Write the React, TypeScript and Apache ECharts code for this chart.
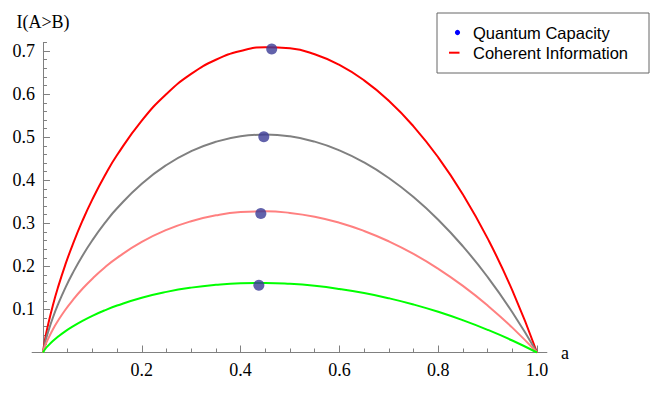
import React, { useEffect, useRef } from 'react';
import * as echarts from 'echarts';

// a values at which the curves were read
const aValues = [0, 0.005, 0.01, 0.02, 0.03, 0.045, 0.06, 0.08, 0.1, 0.125, 0.15, 0.2, 0.25, 0.3, 0.35, 0.4, 0.45, 0.5, 0.55, 0.6, 0.65, 0.7, 0.75, 0.8, 0.85, 0.9, 0.95, 1];

// Coherent information curves I(A>B)
const redCurve = [0, 0.0354, 0.0627, 0.1092, 0.1497, 0.203, 0.2502, 0.3061, 0.3557, 0.4105, 0.4586, 0.5386, 0.6005, 0.6471, 0.68, 0.7004, 0.709, 0.7064, 0.6927, 0.6679, 0.6321, 0.5847, 0.5254, 0.4533, 0.3671, 0.265, 0.1442, 0];
const grayCurve = [0, 0.0262, 0.0464, 0.0807, 0.1104, 0.1496, 0.1841, 0.2248, 0.2607, 0.3003, 0.335, 0.392, 0.4355, 0.4676, 0.4895, 0.5022, 0.5062, 0.502, 0.4897, 0.4695, 0.4414, 0.4053, 0.3611, 0.3084, 0.2467, 0.1754, 0.0936, 0];
const pinkCurve = [0, 0.0174, 0.0307, 0.0534, 0.0729, 0.0987, 0.1213, 0.148, 0.1715, 0.1974, 0.2199, 0.2568, 0.2847, 0.305, 0.3186, 0.3261, 0.3279, 0.3242, 0.3154, 0.3014, 0.2823, 0.2582, 0.229, 0.1945, 0.1547, 0.1092, 0.0578, 0];
const greenCurve = [0, 0.0087, 0.0153, 0.0266, 0.0363, 0.0491, 0.0603, 0.0735, 0.0852, 0.0979, 0.109, 0.1272, 0.1408, 0.1507, 0.1572, 0.1607, 0.1614, 0.1594, 0.1548, 0.1476, 0.1381, 0.126, 0.1115, 0.0945, 0.0749, 0.0527, 0.0278, 0];

// Quantum capacity points
const capacityA = [0.463, 0.447, 0.441, 0.437];
const capacityV = [0.705, 0.501, 0.323, 0.156];

// ticks
const xMajorTicks = [0.2, 0.4, 0.6, 0.8, 1.0];
const xMinorTicks = [0.05, 0.1, 0.15, 0.2, 0.25, 0.3, 0.35, 0.4, 0.45, 0.5, 0.55, 0.6, 0.65, 0.7, 0.75, 0.8, 0.85, 0.9, 0.95, 1.0];
const yMajorTicks = [0.1, 0.2, 0.3, 0.4, 0.5, 0.6, 0.7];
const yMinorTicks = [0.02, 0.04, 0.06, 0.08, 0.1, 0.12, 0.14, 0.16, 0.18, 0.2, 0.22, 0.24, 0.26, 0.28, 0.3, 0.32, 0.34, 0.36, 0.38, 0.4, 0.42, 0.44, 0.46, 0.48, 0.5, 0.52, 0.54, 0.56, 0.58, 0.6, 0.62, 0.64, 0.66, 0.68, 0.7, 0.72];

const legendLabels = ['Quantum Capacity', 'Coherent Information'];

const serif = '"Liberation Serif", "Times New Roman", serif';
const sans = '"Liberation Sans", Arial, sans-serif';
const axisGray = '#808080';

const X_MIN = -0.022;
const X_MAX = 1.02;
const GRID_LEFT = 32.1;
const GRID_RIGHT = 117.1;
// move the y axis from the grid's left edge to a = 0
const Y_AXIS_OFFSET = -((0 - X_MIN) / (X_MAX - X_MIN)) * (664 - GRID_LEFT - GRID_RIGHT);

function pairs(ys: number[]) {
  return aValues.map((a, i) => [a, ys[i]]);
}

function curve(name: string, ys: number[], color: string) {
  return {
    name,
    type: 'line',
    data: pairs(ys),
    smooth: 0.5,
    showSymbol: false,
    symbol: 'none',
    lineStyle: { color, width: 2 },
    xAxisIndex: 0,
    yAxisIndex: 0,
    z: 2,
  };
}

export default function App() {
  const ref = useRef<HTMLDivElement>(null);
  useEffect(() => {
    const chart = echarts.init(ref.current!, null, { renderer: 'svg' });
    const option: any = {
      animation: false,
      backgroundColor: '#ffffff',
      grid: { left: GRID_LEFT, right: GRID_RIGHT, top: 42.5, bottom: 44.5, containLabel: false, outerBoundsMode: 'none' },
      xAxis: [
        {
          type: 'value', min: X_MIN, max: X_MAX, position: 'bottom',
          axisLine: { show: true, onZero: false, lineStyle: { color: axisGray, width: 1 } },
          axisTick: { show: true, inside: true, length: 4, customValues: xMinorTicks, lineStyle: { color: axisGray } },
          axisLabel: { show: false },
          splitLine: { show: false },
        },
        {
          type: 'value', min: X_MIN, max: X_MAX, position: 'bottom',
          axisLine: { show: false, onZero: false },
          axisTick: { show: true, inside: true, length: 7, customValues: xMajorTicks, lineStyle: { color: axisGray } },
          axisLabel: {
            show: true, customValues: xMajorTicks, formatter: (v: number) => v.toFixed(1),
            margin: 8, fontFamily: serif, fontSize: 18, color: '#000',
          },
          splitLine: { show: false },
          name: 'a', nameLocation: 'end', nameGap: 14,
          nameTextStyle: { fontFamily: serif, fontSize: 18, color: '#000' },
        },
      ],
      yAxis: [
        {
          type: 'value', min: 0, max: 0.72, position: 'left', offset: Y_AXIS_OFFSET,
          axisLine: { show: true, onZero: false, lineStyle: { color: axisGray, width: 1 } },
          axisTick: { show: true, inside: true, length: 4, customValues: yMinorTicks, lineStyle: { color: axisGray } },
          axisLabel: { show: false },
          splitLine: { show: false },
        },
        {
          type: 'value', min: 0, max: 0.72, position: 'left', offset: Y_AXIS_OFFSET,
          axisLine: { show: false, onZero: false },
          axisTick: { show: true, inside: true, length: 7, customValues: yMajorTicks, lineStyle: { color: axisGray } },
          axisLabel: {
            show: true, customValues: yMajorTicks, formatter: (v: number) => v.toFixed(1),
            margin: 8, fontFamily: serif, fontSize: 18, color: '#000',
          },
          splitLine: { show: false },
          name: 'I(A>B)', nameLocation: 'end', nameGap: 12,
          nameTextStyle: { fontFamily: serif, fontSize: 18, color: '#000' },
        },
      ],
      series: [
        curve('Coherent Information', redCurve, '#ff0000'),
        curve('gray', grayCurve, '#808080'),
        curve('pink', pinkCurve, '#ff8080'),
        curve('green', greenCurve, '#00ff00'),
        {
          name: 'Quantum Capacity',
          type: 'scatter',
          data: capacityA.map((a, i) => [a, capacityV[i]]),
          symbol: 'circle',
          symbolSize: 11,
          itemStyle: { color: '#3b3b96' },
          xAxisIndex: 0,
          yAxisIndex: 0,
          z: 3,
        },
      ],
      graphic: [
        { type: 'rect', shape: { x: 437, y: 13, width: 212, height: 60 }, style: { fill: '#fff', stroke: '#666', lineWidth: 1 }, z: 10 },
        { type: 'circle', shape: { cx: 457.5, cy: 32.5, r: 2.6 }, style: { fill: '#0000ff' }, z: 11 },
        { type: 'line', shape: { x1: 449, y1: 52.7, x2: 459.5, y2: 52.7 }, style: { stroke: '#ff0000', lineWidth: 2 }, z: 11 },
        { type: 'text', x: 473, y: 32.5, style: { text: legendLabels[0], fontSize: 16.5, fontFamily: sans, fill: '#000', verticalAlign: 'middle' }, z: 11 },
        { type: 'text', x: 473, y: 53, style: { text: legendLabels[1], fontSize: 16.5, fontFamily: sans, fill: '#000', verticalAlign: 'middle' }, z: 11 },
      ],
    };
    chart.setOption(option);
    return () => chart.dispose();
  }, []);
  return (
    <div
      ref={ref}
      style={{ position: 'fixed', left: 0, top: 0, width: 664, height: 397, background: '#fff' }}
    />
  );
}
